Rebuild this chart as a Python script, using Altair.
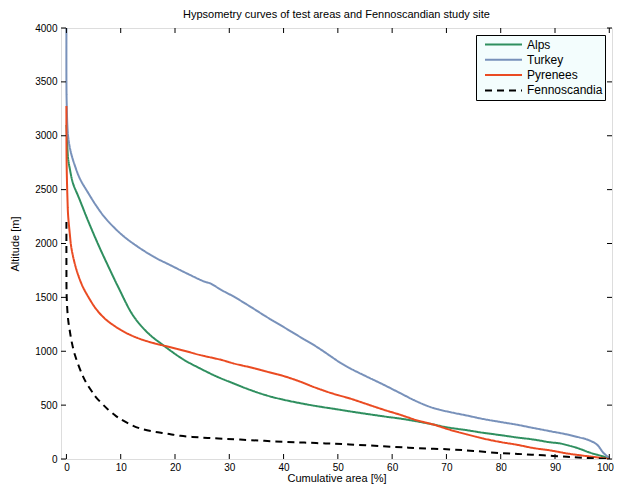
import altair as alt
import pandas as pd

# ---- data ----
alps_x = [0, 0.1, 0.3, 0.6, 1.2, 2.3, 4.0, 6.1, 7.6, 9.5, 12.3, 15.0, 17.8, 21.5, 24.6, 27.7, 30.7, 33.8, 36.9, 40, 45, 50, 52.2, 58.4, 61.5, 64.5, 67.6, 70.0, 73.8, 76.8, 79.9, 83.0, 86.0, 89.1, 90.9, 92.5, 94.0, 96.5, 99.6, 100]
alps_y = [3100, 3000, 2793, 2700, 2560, 2424, 2209, 1963, 1800, 1600, 1330, 1170, 1057, 925, 841, 765, 703, 642, 590, 550, 500, 460, 442, 396, 375, 350, 320, 295, 267, 243, 222, 200, 181, 155, 145, 125, 104, 58, 12, 0]

turkey_x = [0, 0, 0.05, 0.3, 0.8, 1.5, 2.5, 4.0, 5.5, 7.1, 10.1, 13.0, 16.3, 19.5, 22.4, 25.5, 26.5, 28.5, 31.0, 34.0, 36.9, 40.0, 43.0, 46.1, 48.5, 50.4, 52.5, 55.3, 58.0, 61.5, 64.5, 67.6, 70.7, 73.8, 76.8, 79.9, 83.0, 86.0, 89.1, 92.2, 94.5, 95.9, 97.7, 98.9, 99.9, 100]
turkey_y = [4000, 3500, 3300, 3000, 2850, 2731, 2600, 2470, 2350, 2240, 2086, 1975, 1871, 1790, 1717, 1645, 1630, 1570, 1502, 1410, 1318, 1225, 1134, 1041, 960, 895, 835, 765, 700, 611, 535, 473, 435, 403, 371, 344, 318, 288, 258, 228, 200, 181, 135, 58, 12, 0]

pyr_x = [0, 0, 0.05, 0.2, 0.3, 0.6, 0.9, 1.5, 2.1, 3.0, 4.2, 5.5, 7.1, 10.1, 13.0, 16.3, 18.1, 22.4, 24.6, 28.6, 30.7, 34.7, 36.9, 40.0, 43.0, 46.0, 49.2, 52.2, 55.0, 58.4, 61.5, 64.5, 67.6, 70.7, 73.8, 76.8, 79.9, 83.0, 86.0, 89.1, 92.2, 95.0, 98.3, 100]
pyr_y = [3275, 3000, 2700, 2400, 2270, 2100, 1963, 1820, 1717, 1600, 1490, 1390, 1302, 1195, 1125, 1072, 1050, 995, 965, 919, 888, 841, 811, 770, 719, 660, 605, 562, 515, 458, 410, 360, 320, 270, 228, 190, 158, 132, 102, 80, 52, 32, 12, 0]

fen_x = [0, 0, 0.05, 0.3, 0.6, 1.0, 1.6, 2.8, 3.7, 4.9, 5.5, 7.7, 9.2, 10.1, 12.0, 13.8, 16.0, 18.4, 21.0, 24.6, 28.0, 32.0, 40.0, 46.0, 52.2, 60.2, 65.0, 70.7, 75.0, 79.9, 84.0, 87.9, 92.2, 95.0, 97.1, 100]
fen_y = [2200, 1800, 1500, 1300, 1195, 1080, 960, 795, 703, 611, 570, 458, 396, 366, 315, 280, 255, 237, 215, 200, 190, 180, 160, 148, 135, 113, 100, 89, 75, 55, 45, 34, 21, 12, 6, 0]

series_names = ["Alps", "Turkey", "Pyrenees", "Fennoscandia"]
series_colors = ["#2f8f5f", "#7891ba", "#ea4b22", "#000000"]
x_ticks = [0, 10, 20, 30, 40, 50, 60, 70, 80, 90, 100]
y_ticks = [0, 500, 1000, 1500, 2000, 2500, 3000, 3500, 4000]

rows = []
for name, xs, ys in zip(series_names, [alps_x, turkey_x, pyr_x, fen_x], [alps_y, turkey_y, pyr_y, fen_y]):
    for i, (xv, yv) in enumerate(zip(xs, ys)):
        rows.append({"series": name, "x": xv, "y": yv, "i": i})
df = pd.DataFrame(rows)

W, H = 551, 431
FONT = "Liberation Sans"

xscale = alt.Scale(domain=[-1, 100.5], nice=False, zero=False)
yscale = alt.Scale(domain=[0, 4000], nice=False)

legend_kw = dict(title=None, orient="none", legendX=415, legendY=7,
                 fillColor="#f3fdfd", strokeColor="black", padding=2,
                 symbolType="stroke", symbolSize=1369, symbolStrokeWidth=2, symbolOffset=6,
                 labelFontSize=12, labelFont=FONT, labelColor="black", labelOffset=4,
                 clipHeight=15, rowPadding=0.3)

lines = alt.Chart(df).mark_line(strokeWidth=2, clip=True, interpolate="catmull-rom").encode(
    x=alt.X("x:Q", scale=xscale, title="Cumulative area [%]",
            axis=alt.Axis(values=x_ticks, ticks=False, domain=False, grid=False,
                          labelPadding=3, titlePadding=0, format="d",
                          labelFlush=3, labelFlushOffset=4,
                          titleFontWeight="normal")),
    y=alt.Y("y:Q", scale=yscale, title="Altitude [m]",
            axis=alt.Axis(values=y_ticks, ticks=False, domain=False, grid=False,
                          labelPadding=4, titlePadding=14, format="d",
                          titleFontWeight="normal")),
    color=alt.Color("series:N", scale=alt.Scale(domain=series_names, range=series_colors),
                    legend=alt.Legend(**legend_kw)),
    strokeDash=alt.StrokeDash("series:N", scale=alt.Scale(domain=series_names,
                                                          range=[[1, 0], [1, 0], [1, 0], [7, 5]]),
                              legend=alt.Legend(**legend_kw)),
    order="i:Q",
)

xt = pd.DataFrame({"v": x_ticks})
yt = pd.DataFrame({"v": y_ticks})
tick_style = dict(color="black", strokeWidth=1)
xb = alt.Chart(xt).mark_rule(**tick_style).encode(x=alt.X("v:Q", scale=xscale), y=alt.value(H), y2=alt.value(H - 5))
xtop = alt.Chart(xt).mark_rule(**tick_style).encode(x=alt.X("v:Q", scale=xscale), y=alt.value(0), y2=alt.value(5))
yl = alt.Chart(yt).mark_rule(**tick_style).encode(y=alt.Y("v:Q", scale=yscale), x=alt.value(0), x2=alt.value(5))
yr = alt.Chart(yt).mark_rule(**tick_style).encode(y=alt.Y("v:Q", scale=yscale), x=alt.value(W), x2=alt.value(W - 5))

chart = alt.layer(lines, xb, xtop, yl, yr).properties(
    width=W, height=H,
    title=alt.TitleParams("Hypsometry curves of test areas and Fennoscandian study site",
                          fontSize=11, fontWeight="normal", font=FONT, offset=3, anchor="middle",
                          color="black"),
    autosize=alt.AutoSizeParams(type="none"),
    padding={"left": 53, "top": 20, "right": 2, "bottom": 28},
).configure_view(stroke="black", strokeWidth=1.3).configure_axis(
    labelFont=FONT, titleFont=FONT, labelFontSize=12, titleFontSize=12,
    labelColor="black", titleColor="black", titleFontWeight="normal",
).configure(background="white")

chart.save("out.html", embed_options={"renderer": "svg", "actions": False})
